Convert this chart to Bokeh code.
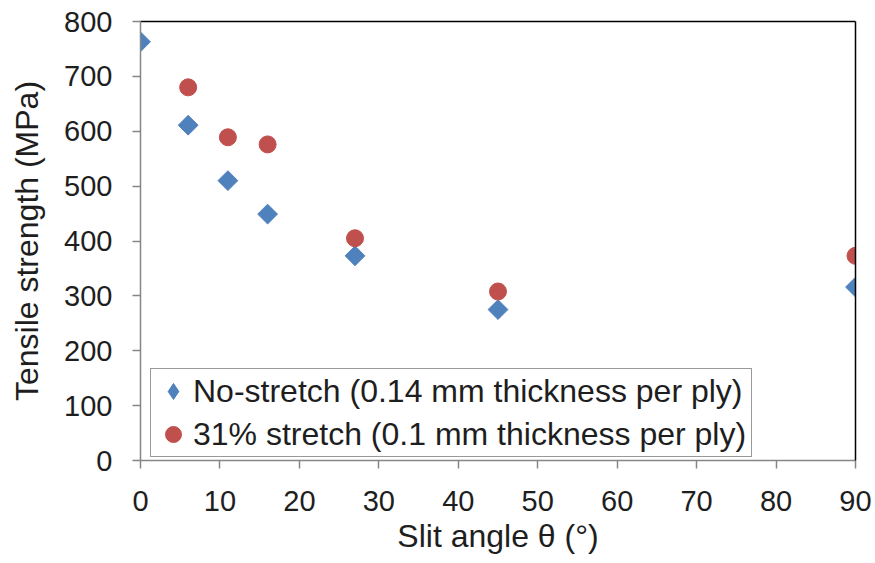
import math

from bokeh.embed import file_html
from bokeh.models import FixedTicker, Legend, LegendItem, LinearAxis, Range1d
from bokeh.plotting import figure
from bokeh.resources import INLINE

# Slit angle (degrees) and tensile strength (MPa)
angle_no_stretch = [0, 6, 11, 16, 27, 45, 90]
strength_no_stretch = [763, 611, 510, 449, 373, 275, 316]

angle_stretch = [6, 11, 16, 27, 45, 90]
strength_stretch = [680, 589, 576, 405, 308, 373]

x_ticks = [0, 10, 20, 30, 40, 50, 60, 70, 80, 90]
y_ticks = [0, 100, 200, 300, 400, 500, 600, 700, 800]

label_no_stretch = "No-stretch (0.14 mm thickness per ply)"
label_stretch = "31% stretch (0.1 mm thickness per ply)"

FONT = "Liberation Sans"
TEXT = "#1e1e1e"
AXIS_GREY = "#868686"
BLUE = "#4F81BD"
RED = "#C0504D"

p = figure(
    frame_width=715,
    frame_height=439,
    min_border_left=140,
    min_border_right=20,
    min_border_top=21,
    min_border_bottom=103,
    x_range=Range1d(0, 90),
    y_range=Range1d(0, 800),
    output_backend="svg",
    toolbar_location=None,
    background_fill_color="white",
    border_fill_color="white",
)
p.outline_line_color = None
p.grid.visible = False

for ax in (p.xaxis[0], p.yaxis[0]):
    ax.axis_line_color = AXIS_GREY
    ax.axis_line_width = 1.5
    ax.major_tick_line_color = AXIS_GREY
    ax.major_tick_line_width = 1.5
    ax.major_tick_out = 8
    ax.major_tick_in = 0
    ax.minor_tick_line_color = None
    ax.major_label_text_font = FONT
    ax.major_label_text_font_size = "29px"
    ax.major_label_text_color = TEXT
    ax.axis_label_text_font = FONT
    ax.axis_label_text_font_size = "32px"
    ax.axis_label_text_font_style = "normal"
    ax.axis_label_text_color = TEXT

p.xaxis[0].ticker = FixedTicker(ticks=x_ticks)
p.yaxis[0].ticker = FixedTicker(ticks=y_ticks)
p.xaxis[0].axis_label = "Slit angle θ (°)"
p.yaxis[0].axis_label = "Tensile strength (MPa)"
p.xaxis[0].major_label_standoff = 22
p.yaxis[0].major_label_standoff = 20
p.xaxis[0].axis_label_standoff = 4
p.yaxis[0].axis_label_standoff = 16

# Black frame edges on the top and right
for side in ("above", "right"):
    edge = LinearAxis(
        ticker=FixedTicker(ticks=[]),
        axis_line_color="black",
        axis_line_width=1.5,
        major_label_text_font_size="0px",
        major_tick_line_color=None,
        minor_tick_line_color=None,
    )
    p.add_layout(edge, side)

r_blue = p.scatter(
    angle_no_stretch, strength_no_stretch,
    marker="square", angle=math.pi / 4, size=14,
    fill_color=BLUE, line_color=BLUE,
)
r_red = p.scatter(
    angle_stretch, strength_stretch,
    marker="circle", size=17,
    fill_color=RED, line_color=RED,
)
# Legend swatch for the no-stretch series (diamond outline shape)
r_blue_key = p.scatter(
    angle_no_stretch, strength_no_stretch,
    marker="diamond", size=20,
    fill_color=BLUE, line_color=BLUE, visible=False,
)

legend = Legend(
    items=[
        LegendItem(label=label_no_stretch, renderers=[r_blue_key]),
        LegendItem(label=label_stretch, renderers=[r_red]),
    ],
    margin=0,
    padding=2,
    spacing=3,
    glyph_width=40,
    glyph_height=40,
    label_standoff=0,
    label_width=556,
    label_text_font=FONT,
    label_text_font_size="32px",
    label_text_color=TEXT,
    border_line_color="#333333",
    border_line_width=1.5,
    background_fill_color="white",
    background_fill_alpha=1.0,
)
legend.location = (10, 3)
p.add_layout(legend, "center")

open("out.html", "w").write(file_html(p, INLINE))
